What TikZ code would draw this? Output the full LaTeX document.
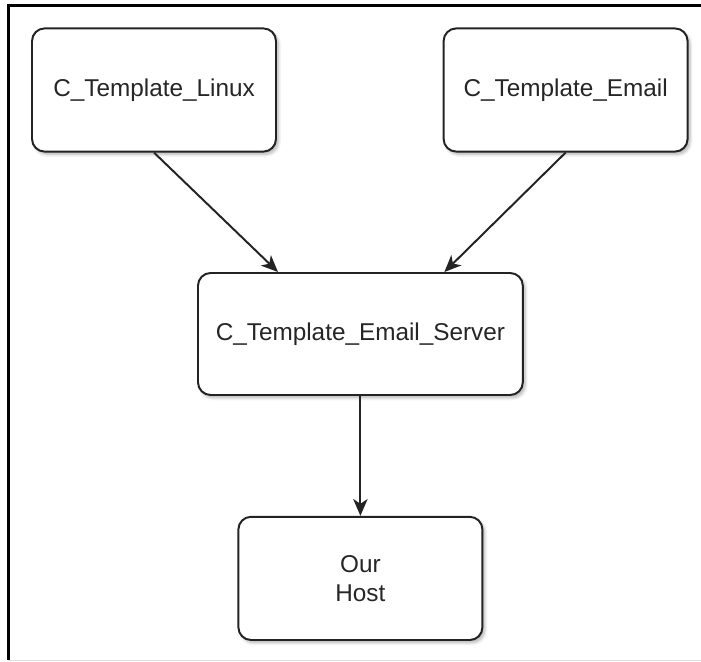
\documentclass[tikz,border=0pt]{standalone}
\usepackage{fontspec}
\setmainfont{Liberation Sans}
\usetikzlibrary{shadows, shadows.blur, positioning, arrows.meta}
\definecolor{EdgeGray}{RGB}{35, 35, 35}
\definecolor{FrameGray}{RGB}{225, 225, 225}

\begin{document}
\begin{tikzpicture}[
            block/.style={draw=EdgeGray, line width=1.4pt, rounded corners=9pt,
                          fill=white, align=center, text=black!85,
                          minimum width=6.1cm, minimum height=3.08cm,
                          font=\fontsize{17.3}{21}\selectfont,
                          blur shadow={shadow xshift=0.06cm, shadow yshift=-0.07cm,
                                       shadow blur steps=6, shadow opacity=30}},
            link/.style={EdgeGray, line width=1.4pt,
                         -{Stealth[length=0.42cm, width=0.36cm, inset=0.12cm]}}
        ]
            \useasboundingbox (0, 0) rectangle (17.525, -16.55);

            % frame of the screenshot
            \draw[FrameGray, line width=0.7pt] (0.2, -16.51) -- (17.525, -16.51);
            \draw[black, line width=1.9pt] (17.525, -0.14) -- (0.21, -0.14) -- (0.21, -16.5);

            \node[block] (linux) at (3.85, -2.25) {C\_Template\_Linux};
            \node[block] (email) at (14.14, -2.25) {C\_Template\_Email};
            \node[block, minimum width=8.12cm, minimum height=3.05cm]
                (server) at (9.01, -8.35) {C\_Template\_Email\_Server};
            \node[block] (host) at (9.01, -14.46) {Our\\Host};

            \draw[link] (linux.south) -- ([xshift=-2.06cm]server.north);
            \draw[link] (email.south) -- ([xshift=2.1cm]server.north);
            \draw[link] (server.south) -- (host.north);
        \end{tikzpicture}
\end{document}
